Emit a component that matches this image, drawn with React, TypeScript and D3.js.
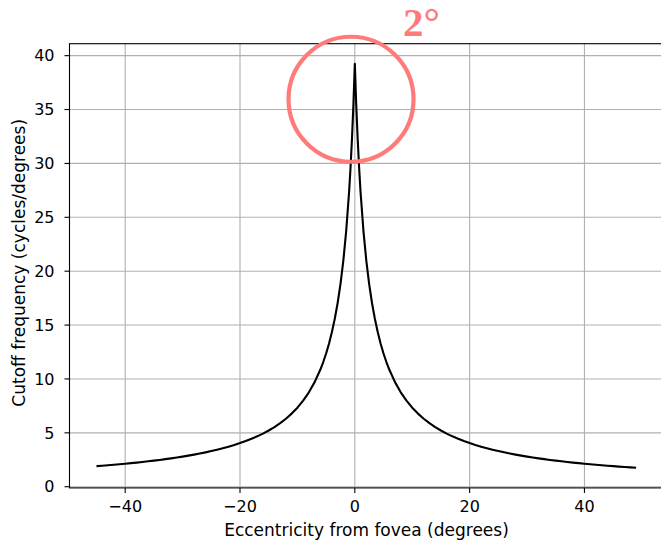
import React from "react";
import * as d3 from "d3";

const eccentricity: number[] = [
  -45, -44, -43, -42, -41, -40, -39, -38, -37, -36, -35, -34, -33, -32, -31, -30,
  -29, -28, -27, -26, -25, -24, -23, -22, -21, -20, -19, -18, -17, -16, -15, -14,
  -13, -12, -11, -10, -9, -8, -7, -6, -5.5, -5, -4.5, -4, -3.5, -3, -2.5, -2,
  -1.5, -1, -0.75, -0.5, -0.25, 0, 0.25, 0.5, 0.75, 1, 1.5, 2, 2.5, 3, 3.5, 4,
  4.5, 5, 5.5, 6, 7, 8, 9, 10, 11, 12, 13, 14, 15, 16, 17, 18, 19, 20, 21, 22,
  23, 24, 25, 26, 27, 28, 29, 30, 31, 32, 33, 34, 35, 36, 37, 38, 39, 40, 41, 42,
  43, 44, 45, 46, 47, 48, 49,
];

const cutoff: number[] = [
  1.908, 1.949, 1.992, 2.037, 2.084, 2.133, 2.185, 2.239, 2.296, 2.356, 2.419,
  2.486, 2.557, 2.631, 2.71, 2.794, 2.883, 2.978, 3.08, 3.189, 3.306, 3.431,
  3.567, 3.714, 3.873, 4.047, 4.237, 4.446, 4.676, 4.931, 5.216, 5.537, 5.898,
  6.311, 6.785, 7.337, 7.986, 8.762, 9.704, 10.873, 11.57, 12.362, 13.27, 14.325,
  15.56, 17.027, 18.8, 20.987, 23.75, 27.347, 29.59, 32.23, 35.39, 39.24, 35.39,
  32.23, 29.59, 27.347, 23.75, 20.987, 18.8, 17.027, 15.56, 14.325, 13.27,
  12.362, 11.57, 10.873, 9.704, 8.762, 7.986, 7.337, 6.785, 6.311, 5.898, 5.537,
  5.216, 4.931, 4.676, 4.446, 4.237, 4.047, 3.873, 3.714, 3.567, 3.431, 3.306,
  3.189, 3.08, 2.978, 2.883, 2.794, 2.71, 2.631, 2.557, 2.486, 2.419, 2.356,
  2.296, 2.239, 2.185, 2.133, 2.084, 2.037, 1.992, 1.949, 1.908, 1.868, 1.831,
  1.794, 1.759,
];

const xTicks: number[] = [-40, -20, 0, 20, 40];
const yTicks: number[] = [0, 5, 10, 15, 20, 25, 30, 35, 40];
const xLabelText = "Eccentricity from fovea (degrees)";
const yLabelText = "Cutoff frequency (cycles/degrees)";
const annotationText = "2°";
const annotationCenter = { x: 0, y: 36 };

const W = 661;
const H = 540;
const left = 69.5;
const right = 663.1;
const top = 43.7;
const bottom = 487.9;

export default function App() {
  const x = d3.scaleLinear().domain([-49.7, 53.7]).range([left, right]);
  const y = d3.scaleLinear().domain([-0.11, 41.11]).range([bottom, top]);
  const pts: [number, number][] = eccentricity.map((e, i) => [e, cutoff[i]]);
  const line = d3
    .line<[number, number]>()
    .x((d) => x(d[0]))
    .y((d) => y(d[1]));
  const font = "'DejaVu Sans', sans-serif";
  const cx = x(annotationCenter.x) - 3.8;
  const cy = y(annotationCenter.y) + 0.5;
  return (
    <svg
      width={W}
      height={H}
      style={{ position: "fixed", left: 0, top: 0, background: "#fff" }}
    >
      <rect x={0} y={0} width={W} height={H} fill="#fff" />
      <g>
        {xTicks.map((t) => (
          <line
            key={"gx" + t}
            x1={x(t)}
            x2={x(t)}
            y1={top}
            y2={bottom}
            stroke="#b0b0b0"
            strokeWidth={1.1}
          />
        ))}
        {yTicks.map((t) => (
          <line
            key={"gy" + t}
            x1={left}
            x2={right}
            y1={y(t)}
            y2={y(t)}
            stroke="#b0b0b0"
            strokeWidth={1.1}
          />
        ))}
      </g>
      <path
        d={line(pts) || ""}
        fill="none"
        stroke="#000"
        strokeWidth={2.1}
        strokeLinejoin="round"
      />
      <rect
        x={left}
        y={top}
        width={right - left}
        height={bottom - top}
        fill="none"
        stroke="#000"
        strokeWidth={1.1}
      />
      {xTicks.map((t) => (
        <g key={"xt" + t}>
          <line x1={x(t)} x2={x(t)} y1={bottom} y2={bottom + 5} stroke="#000" strokeWidth={1.1} />
          <text
            x={x(t)}
            y={512}
            textAnchor="middle"
            fontFamily={font}
            fontSize={16}
            fill="#000"
          >
            {t < 0 ? "\u2212" + Math.abs(t) : String(t)}
          </text>
        </g>
      ))}
      {yTicks.map((t) => (
        <g key={"yt" + t}>
          <line x1={left - 5} x2={left} y1={y(t)} y2={y(t)} stroke="#000" strokeWidth={1.1} />
          <text
            x={54.5}
            y={y(t)}
            dy="0.36em"
            textAnchor="end"
            fontFamily={font}
            fontSize={16}
            fill="#000"
          >
            {String(t)}
          </text>
        </g>
      ))}
      <text
        x={366.5}
        y={536}
        textAnchor="middle"
        fontFamily={font}
        fontSize={17}
        fill="#000"
      >
        {xLabelText}
      </text>
      <text
        transform={`translate(25, ${(top + bottom) / 2 - 3}) rotate(-90)`}
        textAnchor="middle"
        fontFamily={font}
        fontSize={17}
        fill="#000"
      >
        {yLabelText}
      </text>
      <circle cx={cx} cy={cy} r={62.5} fill="none" stroke="#ff7b7b" strokeWidth={4.2} />
      <text
        x={cx + 52}
        y={36}
        fontFamily="'Liberation Serif', 'DejaVu Serif', serif"
        fontWeight="bold"
        fontSize={41}
        fill="#ff7b7b"
      >
        {annotationText}
      </text>
    </svg>
  );
}
